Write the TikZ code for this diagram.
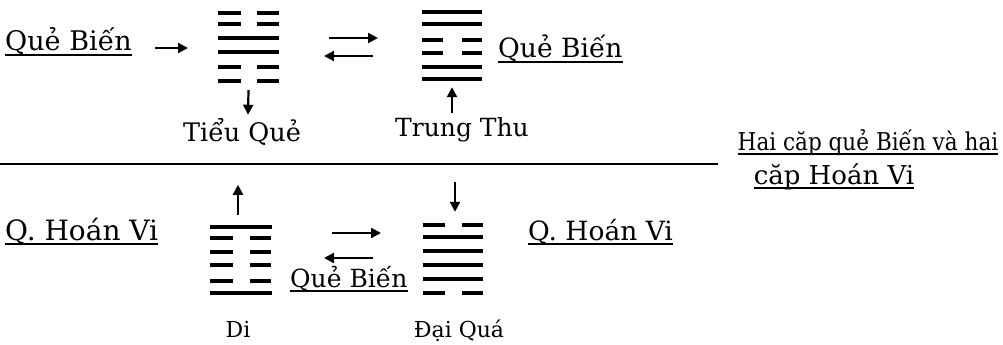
\documentclass[tikz,border=0pt]{standalone}
\usepackage{fontspec}
\setmainfont{DejaVu Serif}
\newfontfamily\narrowserif{DejaVu Serif}[FakeStretch=0.88]
\usetikzlibrary{arrows.meta}
\begin{document}
\begin{tikzpicture}[x=1pt,y=-1pt,
  yao/.style={line width=4pt},
  arr/.style={line width=2.2pt,-{Triangle[length=10pt,width=10pt]}},
  lbl/.style={inner sep=0pt,font=\fontsize{#1}{#1}\selectfont},
  lbl/.default=25,
  nlbl/.style={inner sep=0pt,font=\narrowserif\fontsize{#1}{#1}\selectfont},
  ul/.style={line width=1.4pt},
  hexbox/.style={minimum width=62pt,minimum height=74pt,inner sep=0pt},
  sep/.style={line width=1.4pt}]
\useasboundingbox (0,0) rectangle (1003,345);

% hexagram Tieu Qua (top left)
\node[hexbox] (tq) at (248.5,47) {};
\foreach \y in {38,52} \draw[yao] (218,\y) -- (279,\y);
\foreach \y in {13,24,67,81} {\draw[yao] (218,\y) -- (241,\y); \draw[yao] (257,\y) -- (279,\y);}

% hexagram Trung Phu (top right)
\node[hexbox] (tp) at (452,46) {};
\foreach \y in {12,24,67,79} \draw[yao] (422,\y) -- (482,\y);
\foreach \y in {40,53} {\draw[yao] (422,\y) -- (443,\y); \draw[yao] (462,\y) -- (482,\y);}

% hexagram Di (bottom left)
\node[hexbox] (di) at (241,260) {};
\foreach \y in {227,293} \draw[yao] (210,\y) -- (272,\y);
\foreach \y in {238,252,265,281} {\draw[yao] (210,\y) -- (233,\y); \draw[yao] (250,\y) -- (271,\y);}

% hexagram Dai Qua (bottom right)
\node[hexbox] (dq) at (453,259) {};
\foreach \y in {237,251,265,279} \draw[yao] (423,\y) -- (483,\y);
\foreach \y in {225,293} {\draw[yao] (423,\y) -- (445,\y); \draw[yao] (462,\y) -- (483,\y);}

% labels
\node[lbl=27,anchor=base west] (qb1) at (5,51) {Quẻ Biến};
\node[lbl=26.5,anchor=base west] (qb2) at (498,58) {Quẻ Biến};
\node[lbl=25.5,anchor=base] (tql) at (242,141) {Tiểu Quẻ};
\node[lbl=25,anchor=base] (tpl) at (462,136) {Trung Thu};
\node[nlbl=24.5,anchor=base] (hai1) at (868,150) {Hai căp quẻ Biến và hai};
\node[lbl=26,anchor=base] (hai2) at (834,184) {căp Hoán Vi};
\node[lbl=28,anchor=base west] (hv1) at (5,240) {Q. Hoán Vi};
\node[lbl=26.5,anchor=base west] (hv2) at (528,240) {Q. Hoán Vi};
\node[lbl=25,anchor=base west] (qb3) at (290,287) {Quẻ Biến};
\node[lbl=22,anchor=base] (dil) at (238,337) {Di};
\node[lbl=22,anchor=base] (dql) at (459,337) {Đại Quá};

% underlines
\foreach \n in {qb1,qb2,hai1,hai2,hv1,hv2,qb3}
  \draw[ul] ([yshift=-4pt]\n.base west) -- ([yshift=-4pt]\n.base east);

% separator
\coordinate (sepL) at (0,164);
\coordinate (sepR) at (718,164);
\draw[sep] (sepL) -- (sepR);

% arrows top
\coordinate (a1s) at (155,48);
\coordinate (a1e) at (188,48);
\draw[arr] (a1s) -- (a1e);
\coordinate (sw1s) at (329,38);
\coordinate (sw1e) at (378,38);
\draw[arr] (sw1s) -- (sw1e);
\coordinate (sw2s) at (373,56);
\coordinate (sw2e) at (324,56);
\draw[arr] (sw2s) -- (sw2e);
\draw[arr] ([yshift=-6pt]tq.south) -- ([xshift=6pt,yshift=3pt]tql.north);
\draw[arr] ([yshift=4pt]tpl.north -| tp.south) -- ([yshift=-4pt]tp.south);

% arrows bottom
\draw[arr] ([yshift=8pt]di.north -| 238,0) -- ([yshift=38pt]di.north -| 238,0);
\draw[arr] ([yshift=40pt]dq.north -| 455,0) -- ([yshift=10pt]dq.north -| 455,0);
\coordinate (sw3s) at (332,233);
\coordinate (sw3e) at (381,233);
\draw[arr] (sw3s) -- (sw3e);
\coordinate (sw4s) at (373,258);
\coordinate (sw4e) at (324,258);
\draw[arr] (sw4s) -- (sw4e);
\end{tikzpicture}
\end{document}
